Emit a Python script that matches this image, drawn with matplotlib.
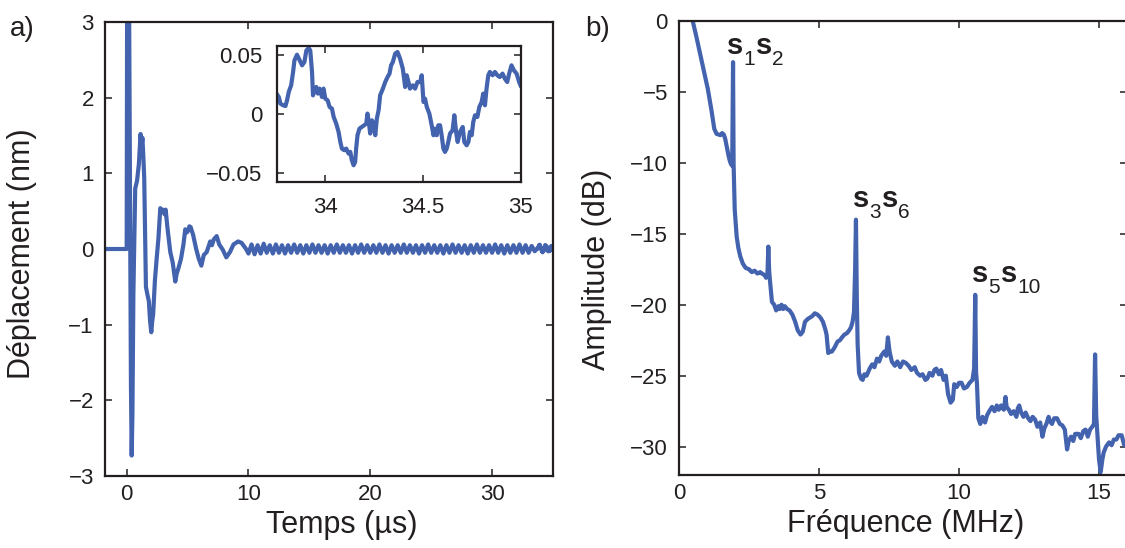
import matplotlib
matplotlib.use("Agg")
import matplotlib.pyplot as plt
from matplotlib.ticker import FuncFormatter

plt.rcParams["font.family"] = ["Liberation Sans", "DejaVu Sans"]

LINE_COLOR = "#4363ae"
TEXT_COLOR = "#231f20"

# --- a) time signal (us, nm) ---
early_t = [-1.8, 0.0, 0.05, 0.12, 0.2, 0.28, 0.35, 0.41, 0.47, 0.55, 0.7, 0.85, 1.0, 1.14,
           1.22, 1.29, 1.36, 1.44, 1.58, 1.7, 1.82, 1.92, 2.02, 2.1, 2.17, 2.32, 2.46, 2.61,
           2.76, 2.88, 2.99, 3.1, 3.2, 3.34, 3.58, 3.78, 3.99, 4.1, 4.22, 4.46, 4.66, 4.81,
           4.95, 5.04, 5.15, 5.25, 5.45, 5.69, 5.92, 6.13, 6.33, 6.57, 6.86, 7.0, 7.16, 7.39,
           7.6, 7.89, 8.18, 8.48, 8.77, 9.15, 9.44, 9.8, 10.0]
early_d = [0.0, 0.0, 4.5, 4.5, 3.2, 0.5, -1.8, -2.73, -2.2, -0.6, 0.8, 0.9, 1.12, 1.52,
           1.35, 1.47, 1.25, 0.94, -0.5, -0.6, -0.69, -0.95, -1.1, -0.95, -0.87, -0.41, -0.13, 0.15,
           0.54, 0.5, 0.52, 0.46, 0.52, 0.29, -0.04, -0.18, -0.43, -0.33, -0.27, -0.13, 0.06, 0.26,
           0.22, 0.24, 0.3, 0.29, 0.19, 0.01, -0.13, -0.22, -0.08, -0.04, 0.1, 0.05, 0.13, 0.17,
           0.06, -0.01, -0.11, -0.04, 0.06, 0.1, 0.08, 0.0, -0.06]

tail_t = [10.25, 10.5, 10.75, 11.0, 11.25, 11.5, 11.75, 12.0, 12.25, 12.5, 12.75, 13.0,
          13.25, 13.5, 13.75, 14.0, 14.25, 14.5, 14.75, 15.0, 15.25, 15.5, 15.75, 16.0,
          16.25, 16.5, 16.75, 17.0, 17.25, 17.5, 17.75, 18.0, 18.25, 18.5, 18.75, 19.0,
          19.25, 19.5, 19.75, 20.0, 20.25, 20.5, 20.75, 21.0, 21.25, 21.5, 21.75, 22.0,
          22.25, 22.5, 22.75, 23.0, 23.25, 23.5, 23.75, 24.0, 24.25, 24.5, 24.75, 25.0,
          25.25, 25.5, 25.75, 26.0, 26.25, 26.5, 26.75, 27.0, 27.25, 27.5, 27.75, 28.0,
          28.25, 28.5, 28.75, 29.0, 29.25, 29.5, 29.75, 30.0, 30.25, 30.5, 30.75, 31.0,
          31.25, 31.5, 31.75, 32.0, 32.25, 32.5, 32.75, 33.0, 33.25, 33.5]
tail_d = [0.06, -0.07, 0.05, -0.06, 0.07, -0.05, 0.05, -0.06, 0.06, -0.05, 0.05, -0.06,
          0.05, -0.05, 0.06, -0.05, 0.05, -0.06, 0.05, -0.05, 0.06, -0.05, 0.05, -0.05,
          0.05, -0.06, 0.05, -0.05, 0.06, -0.05, 0.05, -0.05, 0.05, -0.06, 0.05, -0.05,
          0.06, -0.05, 0.05, -0.05, 0.05, -0.05, 0.06, -0.05, 0.05, -0.06, 0.05, -0.05,
          0.05, -0.05, 0.06, -0.05, 0.05, -0.05, 0.05, -0.06, 0.05, -0.05, 0.06, -0.05,
          0.05, -0.05, 0.05, -0.06, 0.05, -0.05, 0.06, -0.05, 0.05, -0.05, 0.05, -0.06,
          0.05, -0.05, 0.06, -0.05, 0.05, -0.05, 0.05, -0.05, 0.06, -0.05, 0.05, -0.06,
          0.05, -0.05, 0.05, -0.05, 0.06, -0.05, 0.05, -0.05, 0.04, -0.03]

zoom_t = [33.75, 33.762, 33.77, 33.784, 33.796, 33.804, 33.813, 33.825, 33.835, 33.842,
          33.855, 33.869, 33.881, 33.893, 33.903, 33.915, 33.923, 33.932, 33.937, 33.945,
          33.954, 33.962, 33.971, 33.983, 33.991, 34.0, 34.012, 34.022, 34.034, 34.043,
          34.056, 34.068, 34.077, 34.085, 34.097, 34.107, 34.119, 34.128, 34.136, 34.145,
          34.153, 34.158, 34.165, 34.175, 34.187, 34.199, 34.21, 34.216, 34.223, 34.23,
          34.239, 34.247, 34.256, 34.264, 34.273, 34.281, 34.295, 34.307, 34.319, 34.329,
          34.337, 34.346, 34.358, 34.37, 34.383, 34.397, 34.409, 34.417, 34.426, 34.434,
          34.448, 34.46, 34.472, 34.486, 34.494, 34.503, 34.511, 34.52, 34.533, 34.545,
          34.554, 34.562, 34.571, 34.579, 34.588, 34.596, 34.605, 34.613, 34.622, 34.63,
          34.639, 34.652, 34.661, 34.67, 34.678, 34.69, 34.704, 34.712, 34.724, 34.733,
          34.741, 34.75, 34.758, 34.767, 34.779, 34.789, 34.801, 34.809, 34.818, 34.826,
          34.835, 34.843, 34.857, 34.869, 34.881, 34.894, 34.908, 34.92, 34.932, 34.942,
          34.954, 34.966, 34.98, 34.993, 35.0]
zoom_d = [0.0175, 0.0146, 0.009, 0.0076, 0.007, 0.0118, 0.019, 0.0245, 0.0358, 0.0456,
          0.0504, 0.0456, 0.0414, 0.0442, 0.054, 0.056, 0.054, 0.0358, 0.016, 0.0203,
          0.0231, 0.0175, 0.0217, 0.0146, 0.0217, 0.0132, 0.0118, 0.0062, 0.0048, -0.0023,
          -0.0079, -0.0149, -0.0234, -0.029, -0.0304, -0.029, -0.0332, -0.0318, -0.0389, -0.0431,
          -0.0403, -0.029, -0.0177, -0.0121, -0.0107, -0.0093, -0.0079, 0.0006, -0.0065, -0.0163,
          -0.0051, -0.0079, -0.0177, -0.0037, 0.0034, 0.0161, 0.0217, 0.0273, 0.0315, 0.0344,
          0.0414, 0.0442, 0.0513, 0.0527, 0.047, 0.0386, 0.0231, 0.033, 0.0273, 0.0217,
          0.0245, 0.0217, 0.0273, 0.0273, 0.033, 0.0104, 0.0132, 0.0062, 0.0006, -0.0093,
          -0.0177, -0.0121, -0.0177, -0.0093, -0.0093, -0.0177, -0.029, -0.0318, -0.029, -0.0234,
          -0.0163, -0.0135, -0.0008, -0.0149, -0.0234, -0.0149, -0.0107, -0.0234, -0.0262, -0.0234,
          -0.0149, -0.0177, -0.0065, -0.0008, -0.0023, 0.0062, 0.0104, 0.0175, 0.0076, 0.0217,
          0.033, 0.0358, 0.033, 0.0358, 0.033, 0.0315, 0.0344, 0.0301, 0.0273, 0.0344,
          0.0414, 0.0372, 0.0344, 0.0273, 0.0245]

# --- b) spectrum (MHz, dB) ---
freq = [0.3, 0.49, 0.62, 0.84, 1.03, 1.16, 1.26, 1.34, 1.41, 1.48, 1.54, 1.6, 1.65, 1.72,
        1.77, 1.82, 1.86, 1.9, 1.93, 1.95, 1.99, 2.06, 2.12, 2.19, 2.28, 2.38, 2.5, 2.6,
        2.7, 2.8, 2.9, 2.96, 3.05, 3.11, 3.16, 3.19, 3.22, 3.24, 3.32, 3.4, 3.47, 3.55,
        3.6, 3.66, 3.72, 3.78, 3.86, 3.95, 4.05, 4.15, 4.24, 4.34, 4.42, 4.5, 4.6, 4.68,
        4.76, 4.85, 4.95, 5.05, 5.14, 5.22, 5.27, 5.33, 5.4, 5.46, 5.56, 5.66, 5.75, 5.82,
        5.91, 6.0, 6.08, 6.14, 6.2, 6.25, 6.29, 6.32, 6.35, 6.38, 6.43, 6.5, 6.56, 6.62,
        6.7, 6.81, 6.9, 6.98, 7.07, 7.15, 7.22, 7.33, 7.4, 7.46, 7.52, 7.6, 7.71, 7.8,
        7.9, 8.0, 8.1, 8.2, 8.3, 8.42, 8.5, 8.61, 8.7, 8.8, 8.87, 8.95, 9.05, 9.12,
        9.19, 9.28, 9.36, 9.45, 9.53, 9.61, 9.7, 9.78, 9.83, 9.92, 10.0, 10.09, 10.18, 10.28,
        10.38, 10.48, 10.54, 10.58, 10.61, 10.64, 10.69, 10.76, 10.84, 10.93, 11.0, 11.08, 11.18, 11.27,
        11.35, 11.42, 11.5, 11.6, 11.66, 11.7, 11.78, 11.86, 11.95, 12.05, 12.1, 12.15, 12.22, 12.3,
        12.38, 12.47, 12.55, 12.63, 12.72, 12.8, 12.9, 12.98, 13.05, 13.12, 13.2, 13.24, 13.32, 13.4,
        13.5, 13.6, 13.69, 13.78, 13.86, 13.92, 14.0, 14.08, 14.15, 14.27, 14.35, 14.44, 14.52, 14.6,
        14.68, 14.76, 14.82, 14.86, 14.9, 14.94, 15.0, 15.06, 15.12, 15.17, 15.25, 15.36, 15.45, 15.53,
        15.62, 15.7, 15.81, 15.9, 16.0]
amp_db = [3.0, 0.0, -1.1, -3.1, -4.8, -6.3, -7.6, -7.95, -8.0, -8.05, -7.9, -8.0, -8.3, -9.0,
          -9.5, -9.9, -10.1, -10.2, -2.9, -10.1, -13.3, -15.2, -16.0, -16.6, -17.1, -17.4, -17.5, -17.7,
          -17.6, -17.8, -17.7, -17.8, -17.9, -18.1, -17.8, -15.9, -17.6, -18.1, -19.8, -20.0, -20.4, -20.1,
          -20.3, -20.0, -20.3, -20.1, -20.3, -20.4, -20.7, -21.2, -21.8, -22.1, -21.9, -21.2, -21.0, -20.9,
          -20.8, -20.6, -20.7, -20.9, -21.2, -21.7, -22.1, -23.4, -23.3, -23.3, -23.0, -22.6, -22.5, -22.3,
          -22.1, -22.0, -21.8, -21.6, -21.2, -20.5, -17.5, -14.0, -19.5, -22.8, -24.8, -25.2, -25.3, -24.9,
          -25.0, -24.5, -24.2, -24.4, -23.8, -24.0, -23.6, -23.3, -23.6, -22.3, -23.3, -24.0, -24.3, -24.0,
          -24.4, -24.0, -24.1, -24.3, -24.6, -24.4, -24.8, -25.0, -24.9, -25.3, -25.2, -24.8, -25.0, -24.6,
          -24.5, -24.9, -24.6, -25.3, -25.0, -26.3, -26.9, -26.7, -25.6, -25.8, -25.5, -25.5, -25.9, -25.8,
          -25.5, -25.3, -24.5, -19.3, -24.8, -25.5, -28.0, -28.4, -27.9, -28.3, -27.8, -27.5, -27.2, -27.5,
          -27.1, -27.4, -27.1, -27.4, -26.5, -27.2, -27.4, -27.7, -27.5, -27.9, -27.3, -27.1, -27.6, -27.9,
          -27.6, -28.0, -28.2, -27.9, -28.1, -28.6, -28.3, -29.3, -28.7, -28.4, -27.9, -28.2, -28.4, -28.0,
          -28.0, -28.4, -28.5, -28.8, -30.2, -29.6, -29.3, -29.6, -29.1, -29.1, -29.4, -28.9, -28.8, -29.3,
          -28.8, -28.6, -28.4, -23.5, -27.8, -29.0, -30.9, -31.8, -30.9, -30.4, -30.0, -29.7, -29.9, -29.5,
          -29.5, -29.2, -29.2, -29.9, -29.8]

# mode labels: (base, sub) pairs, anchor (MHz, dB)
mode_labels = [
    ([("s", "1"), ("s", "2")], 1.70, -2.3),
    ([("s", "3"), ("s", "6")], 6.20, -13.1),
    ([("s", "5"), ("s", "10")], 10.45, -18.4),
]


def fmt_num(v, pos):
    s = f"{v:g}"
    return s.replace("-", "\u2212")


def style_axes(ax, size=16, xpad=6, ypad=8):
    for sp in ax.spines.values():
        sp.set_linewidth(1.6)
        sp.set_color(TEXT_COLOR)
    ax.tick_params(direction="in", length=5, width=1.1, top=True, right=True,
                   labelsize=size, colors=TEXT_COLOR)
    ax.tick_params(axis="x", pad=xpad)
    ax.tick_params(axis="y", pad=ypad)
    ax.xaxis.set_major_formatter(FuncFormatter(fmt_num))
    ax.yaxis.set_major_formatter(FuncFormatter(fmt_num))


def draw_mode_label(ax, parts, x, y):
    prev = None
    first = None
    for base, sub in parts:
        if prev is None:
            t = ax.text(x, y, base, fontsize=21, fontweight="bold", color=TEXT_COLOR,
                        va="baseline", ha="left")
            first = t
        else:
            t = ax.annotate(base, xy=(1, 0), xycoords=(prev, first), xytext=(0.5, 0),
                            textcoords="offset points", fontsize=21, fontweight="bold",
                            color=TEXT_COLOR, va="bottom", ha="left")
        s = ax.annotate(sub, xy=(1, 0), xycoords=(t, first), xytext=(0.3, -6.5),
                        textcoords="offset points", fontsize=15, color=TEXT_COLOR,
                        va="bottom", ha="left")
        prev = s


fig = plt.figure(figsize=(11.25, 5.48), dpi=100)

# a) displacement vs time
ax1 = fig.add_axes([105 / 1125, 1 - 476 / 548, 448 / 1125, 454 / 548])
time_all = early_t + tail_t + zoom_t
disp_all = early_d + tail_d + zoom_d
ax1.plot(time_all, disp_all, color=LINE_COLOR, lw=3.0, solid_joinstyle="round")
ax1.set_xlim(-1.78, 35)
ax1.set_ylim(-3, 3)
ax1.set_xticks([0, 10, 20, 30])
ax1.set_yticks([-3, -2, -1, 0, 1, 2, 3])
style_axes(ax1)
ax1.set_xlabel("Temps (µs)", fontsize=22, color=TEXT_COLOR)
ax1.xaxis.set_label_coords(0.529, -0.075)
ax1.set_ylabel("Déplacement (nm)", fontsize=22, color=TEXT_COLOR)
ax1.yaxis.set_label_coords(-0.151, 0.49)

# inset: zoom on the end of the record
axi = fig.add_axes([276.5 / 1125, 1 - 181.7 / 548, 244 / 1125, 136 / 548])
axi.plot(time_all, disp_all, color=LINE_COLOR, lw=3.0, solid_joinstyle="round")
axi.set_xlim(33.75, 35)
axi.set_ylim(-0.057, 0.058)
axi.set_xticks([34, 34.5, 35])
axi.set_yticks([-0.05, 0, 0.05])
style_axes(axi, xpad=11, ypad=10)

# b) spectrum
ax2 = fig.add_axes([679 / 1125, 1 - 475 / 548, 448 / 1125, 454 / 548])
ax2.plot(freq, amp_db, color=LINE_COLOR, lw=3.0, solid_joinstyle="round")
ax2.set_xlim(0, 16)
ax2.set_ylim(-32, 0)
ax2.set_xticks([0, 5, 10, 15])
ax2.set_yticks([-30, -25, -20, -15, -10, -5, 0])
style_axes(ax2)
ax2.set_xlabel("Fréquence (MHz)", fontsize=22, color=TEXT_COLOR)
ax2.xaxis.set_label_coords(0.505, -0.075)
ax2.set_ylabel("Amplitude (dB)", fontsize=22, color=TEXT_COLOR)
ax2.yaxis.set_label_coords(-0.15, 0.454)

for parts, fx, fy in mode_labels:
    draw_mode_label(ax2, parts, fx, fy)

fig.text(10 / 1125, 1 - 36 / 548, "a)", fontsize=20, color=TEXT_COLOR)
fig.text(585 / 1125, 1 - 36 / 548, "b)", fontsize=20, color=TEXT_COLOR)

fig.savefig("out.png", dpi=100)
